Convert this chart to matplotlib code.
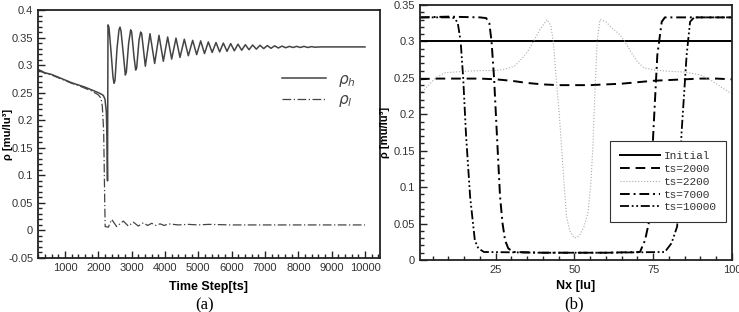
import matplotlib
matplotlib.use('Agg')
import matplotlib.pyplot as plt
from matplotlib.ticker import MultipleLocator, FormatStrFormatter, FuncFormatter

# ---- panel (a): density vs time step ----
ts_h = [200, 400, 600, 800, 1000, 1200, 1400, 1600, 1800, 2000, 2100, 2150, 2200, 2240, 2260, 2275,
        2290, 2320, 2380, 2440, 2470, 2500, 2560, 2620, 2650, 2680, 2750, 2810, 2840,
        2910, 2970, 3000, 3070, 3120, 3150, 3220, 3270, 3300, 3410, 3550, 3690, 3820, 3950, 4080, 4200,
        4330, 4450, 4580, 4700, 4830, 4950, 5070, 5185, 5300, 5415, 5530, 5640, 5750, 5860,
        5970, 6080, 6190, 6300, 6410, 6520, 6630, 6740, 6850, 6960, 7070, 7180, 7290, 7400,
        7510, 7620, 7730, 7840, 7950, 8060, 8170, 8280, 8390, 8500, 8650, 10000]
rho_h = [0.292, 0.286, 0.283, 0.278, 0.273, 0.268, 0.264, 0.260, 0.255, 0.250, 0.247, 0.245, 0.238, 0.215, 0.170, 0.090,
         0.373, 0.368, 0.325, 0.278, 0.267, 0.272, 0.330, 0.364, 0.369, 0.362, 0.320, 0.282, 0.287,
         0.340, 0.364, 0.360, 0.315, 0.291, 0.295, 0.345, 0.360, 0.357, 0.298, 0.357, 0.303, 0.354, 0.307, 0.351, 0.311,
         0.349, 0.314, 0.347, 0.317, 0.345, 0.319, 0.344, 0.321, 0.342, 0.323, 0.341, 0.324, 0.340, 0.325,
         0.339, 0.326, 0.338, 0.327, 0.337, 0.328, 0.3365, 0.329, 0.336, 0.330, 0.3355, 0.3305, 0.335, 0.331,
         0.3345, 0.3315, 0.334, 0.332, 0.334, 0.332, 0.334, 0.332, 0.3335, 0.3325, 0.333, 0.333]

ts_l = [200, 400, 600, 800, 1000, 1200, 1400, 1600, 1800, 2000, 2080, 2120, 2160, 2180, 2195, 2205,
        2300, 2400, 2550, 2750, 2900, 3050, 3200, 3350, 3480, 3600, 3730, 3850, 3980, 4100,
        4400, 4700, 5000, 5300, 6000, 10000]
rho_l = [0.291, 0.285, 0.282, 0.277, 0.272, 0.267, 0.263, 0.258, 0.253, 0.246, 0.240, 0.225, 0.180, 0.100, 0.040, 0.007,
         0.006, 0.020, 0.007, 0.017, 0.008, 0.015, 0.008, 0.014, 0.009, 0.013, 0.009, 0.012, 0.009, 0.012,
         0.010, 0.011, 0.010, 0.011, 0.010, 0.010]

# ---- panel (b): density profiles along Nx ----
nx_init = [1, 100]
rho_init = [0.3, 0.3]

nx_2000 = [1, 5, 10, 15, 20, 25, 30, 35, 40, 45, 50, 55, 60, 65, 70, 75, 80, 85, 90, 95, 100]
rho_2000 = [0.248, 0.249, 0.249, 0.249, 0.249, 0.248, 0.246, 0.243, 0.241, 0.240, 0.240, 0.240,
            0.241, 0.242, 0.244, 0.246, 0.247, 0.248, 0.249, 0.249, 0.248]

nx_2200 = [1, 3, 6, 9, 15, 20, 25, 28, 31, 33, 35, 37, 39, 41.3, 42.5, 43.3, 44.2, 45.2, 46, 46.7,
           47.5, 48.5, 50, 51.5, 53, 54.3, 55.2, 55.8, 56.5, 57.2, 58.1, 60, 62, 64, 66, 68, 70,
           72, 75, 80, 85, 90, 94, 97, 100]
rho_2200 = [0.228, 0.237, 0.250, 0.257, 0.259, 0.260, 0.260, 0.262, 0.266, 0.275, 0.285, 0.300, 0.316,
            0.330, 0.322, 0.300, 0.250, 0.200, 0.150, 0.105, 0.060, 0.040, 0.030, 0.033, 0.045, 0.065,
            0.105, 0.150, 0.230, 0.300, 0.330, 0.327, 0.318, 0.311, 0.300, 0.285, 0.272, 0.264, 0.261,
            0.259, 0.258, 0.254, 0.245, 0.236, 0.228]

nx_7000 = [1, 10, 20, 22, 23, 23.7, 24.5, 25.4, 26.4, 27.2, 28, 29, 30.6, 40, 60, 70.8, 72.4, 73.8,
           75, 76.3, 77.7, 78.7, 90, 100]
rho_7000 = [0.333, 0.334, 0.333, 0.332, 0.325, 0.300, 0.250, 0.172, 0.087, 0.050, 0.027, 0.016, 0.011,
            0.010, 0.010, 0.011, 0.027, 0.055, 0.172, 0.281, 0.327, 0.333, 0.333, 0.333]

nx_10000 = [1, 10, 12, 13, 13.9, 14.7, 15.6, 16.9, 18.4, 19.5, 21.3, 40, 60, 78.7, 80.8, 82.6, 84,
            85.6, 86.7, 88, 100]
rho_10000 = [0.333, 0.333, 0.332, 0.325, 0.300, 0.250, 0.172, 0.087, 0.027, 0.016, 0.011, 0.010, 0.010,
             0.011, 0.023, 0.046, 0.175, 0.281, 0.327, 0.333, 0.333]

label_font = {'family': 'Liberation Sans', 'size': 9, 'weight': 'bold'}
ylabel_font = {'family': 'Liberation Sans', 'size': 8, 'weight': 'bold'}


def style_axes(ax):
    for s in ax.spines.values():
        s.set_linewidth(1.3)
        s.set_color('#222222')
    ax.tick_params(which='both', direction='in', top=False, right=False, width=1.0,
                   colors='#222222', labelcolor='#333333', labelsize=8)
    ax.tick_params(which='major', length=5)
    ax.tick_params(which='minor', length=3)
    for lab in ax.get_xticklabels() + ax.get_yticklabels():
        lab.set_family('Liberation Sans')
    ax.yaxis.set_major_formatter(FuncFormatter(lambda v, p: '%g' % round(v, 4)))


fig = plt.figure(figsize=(7.39, 3.12), dpi=100)

# panel (a)
ax1 = fig.add_axes([38 / 739, 54 / 312, 342 / 739, 248 / 312])
ax1.plot(ts_h, rho_h, color='#444444', lw=1.1, solid_joinstyle='round', label=r'$\rho_h$')
ax1.plot(ts_l, rho_l, color='#444444', lw=0.9, dashes=(7, 2, 1, 2), label=r'$\rho_l$')
ax1.set_xlim(190, 10450)
ax1.set_ylim(-0.05, 0.4)
ax1.xaxis.set_major_locator(MultipleLocator(1000))
ax1.xaxis.set_minor_locator(MultipleLocator(200))
ax1.yaxis.set_major_locator(MultipleLocator(0.05))
ax1.yaxis.set_minor_locator(MultipleLocator(0.01))
ax1.xaxis.set_major_formatter(FormatStrFormatter('%d'))
style_axes(ax1)
ax1.set_xticks([1000, 2000, 3000, 4000, 5000, 6000, 7000, 8000, 9000, 10000])
ax1.set_xlabel('Time Step[ts]', fontdict=label_font, labelpad=6)
ax1.set_ylabel('ρ [mu/lu³]', fontdict=ylabel_font)
ax1.yaxis.set_label_coords(-0.074, 0.5)
leg1 = ax1.legend(loc='upper left', bbox_to_anchor=(0.672, 0.807), frameon=False, handlelength=2.9,
                  labelspacing=0.25, prop={'size': 11})
for t in leg1.get_texts():
    t.set_color('#444444')

# panel (b)
ax2 = fig.add_axes([420 / 739, 52 / 312, 312 / 739, 255 / 312])
ax2.plot(nx_init, rho_init, color='black', lw=1.4, label='Initial')
ax2.plot(nx_2000, rho_2000, color='black', lw=1.4, dashes=(5, 3), label='ts=2000')
ax2.plot(nx_2200, rho_2200, color='#aaaaaa', lw=0.8, ls=':', label='ts=2200')
ax2.plot(nx_7000, rho_7000, color='black', lw=1.4, dashes=(5, 2, 1, 2), label='ts=7000')
ax2.plot(nx_10000, rho_10000, color='black', lw=1.3, dashes=(5, 1.5, 1, 1.5, 1, 1.5), label='ts=10000')
ax2.set_xlim(1, 100)
ax2.set_ylim(0, 0.35)
ax2.set_xticks([25, 50, 75, 100])
ax2.xaxis.set_minor_locator(MultipleLocator(5))
ax2.yaxis.set_major_locator(MultipleLocator(0.05))
ax2.yaxis.set_minor_locator(MultipleLocator(0.01))
style_axes(ax2)
ax2.set_xlabel('Nx [lu]', fontdict=label_font, labelpad=4)
ax2.set_ylabel('ρ [mu/lu³]', fontdict=ylabel_font)
ax2.yaxis.set_label_coords(-0.095, 0.5)
leg2 = ax2.legend(loc='lower right', bbox_to_anchor=(1.0, 0.126), fancybox=False, framealpha=1,
                  edgecolor='#333333', handlelength=3.6, labelspacing=0.25, borderpad=0.9,
                  handletextpad=0.3, prop={'family': 'Liberation Mono', 'size': 8})
leg2.get_frame().set_linewidth(0.8)
for t in leg2.get_texts():
    t.set_color('#333333')

fig.text(205 / 739, 1 - 305 / 312, '(a)', ha='center', va='center', family='Liberation Serif', size=12)
fig.text(574 / 739, 1 - 304 / 312, '(b)', ha='center', va='center', family='Liberation Serif', size=12)

fig.savefig('out.png', dpi=100)
